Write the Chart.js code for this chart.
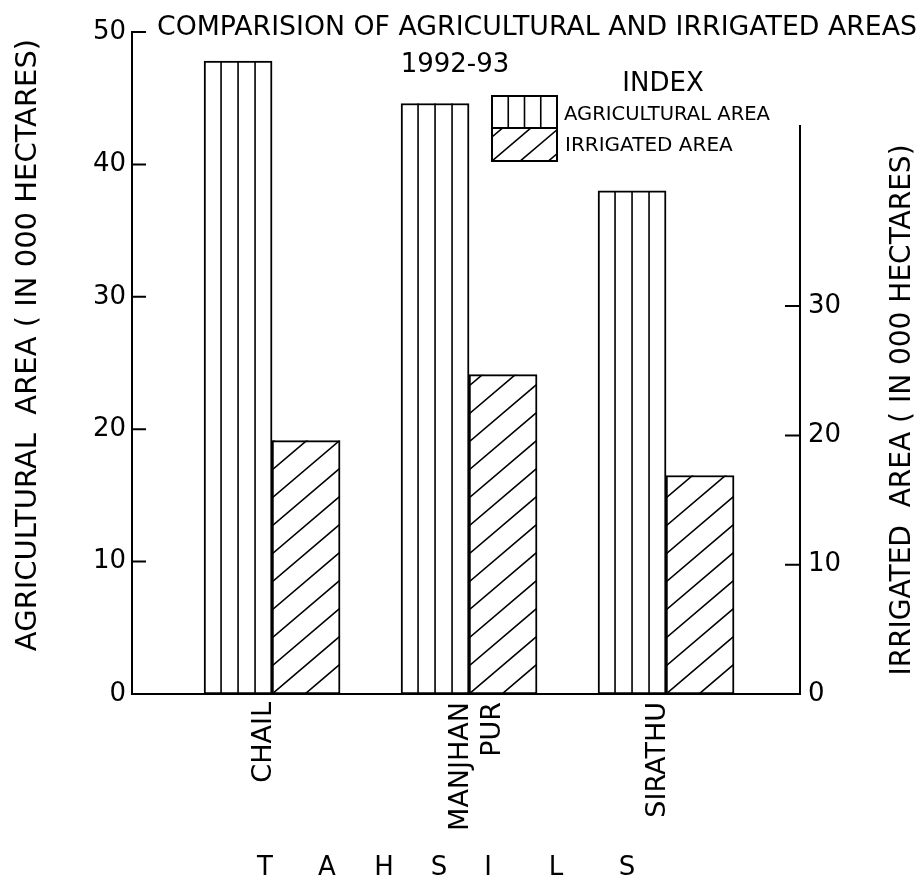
<!DOCTYPE html>
<html>
<head>
<meta charset="utf-8">
<title>Agricultural and irrigated areas 1992-93</title>
<script src="https://cdn.jsdelivr.net/npm/chart.js@4.4.1/dist/chart.umd.min.js"></script>
<style>
  body { margin: 0; background: #fff; }
  canvas { display: block; }
</style>
</head>
<body>
<canvas id="grafico" width="922" height="889"></canvas>
<script>
const tahsils = [['CHAIL'], ['MANJHAN', 'PUR'], ['SIRATHU']];
const agriculturalArea = [47.8, 44.6, 38.0];
const irrigatedArea = [19.6, 24.7, 16.9];
const leftTicks = [0, 10, 20, 30, 40, 50];
const rightTicks = [0, 10, 20, 30];

const titleText = 'COMPARISION OF AGRICULTURAL AND IRRIGATED AREAS';
const yearText = '1992-93';
const leftTitle = 'AGRICULTURAL  AREA ( IN 000 HECTARES)';
const rightTitle = 'IRRIGATED  AREA ( IN 000 HECTARES)';
const xTitle = ['T', 'A', 'H', 'S', 'I', 'L', 'S'];
const xTitlePos = [265, 327, 384, 439, 488, 556, 627];

const FONT = 'DejaVu Sans';
const RIGHT_AXIS_TOP = 44; // right axis line is drawn only up to here

function hatchVertical(ctx, left, top, width, bottom) {
  ctx.beginPath();
  for (let k = 1; k < 4; k++) {
    let lx = left + (width * k) / 4;
    ctx.moveTo(lx, top);
    ctx.lineTo(lx, bottom);
  }
  ctx.stroke();
}

function hatchDiagonal(ctx, left, top, width, bottom, gap) {
  const slope = 0.85;
  ctx.save();
  ctx.beginPath();
  ctx.rect(left, top, width, bottom - top);
  ctx.clip();
  ctx.beginPath();
  for (let c = bottom + Math.ceil((width * slope) / gap) * gap; c > top; c -= gap) {
    ctx.moveTo(left, c);
    ctx.lineTo(left + width, c - slope * width);
  }
  ctx.stroke();
  ctx.restore();
}

const decoracao = {
  id: 'decoracao',
  afterDatasetsDraw(chart) {
    const ctx = chart.ctx;
    ctx.save();
    ctx.strokeStyle = '#000';
    ctx.lineWidth = 1.6;
    chart.getDatasetMeta(0).data.forEach((bar) => {
      const p = bar.getProps(['x', 'y', 'base', 'width'], true);
      hatchVertical(ctx, p.x - p.width / 2, p.y, p.width, p.base);
    });
    chart.getDatasetMeta(1).data.forEach((bar) => {
      const p = bar.getProps(['x', 'y', 'base', 'width'], true);
      hatchDiagonal(ctx, p.x - p.width / 2, p.y, p.width, p.base, 28);
    });
    ctx.restore();
  },
  afterDraw(chart) {
    const ctx = chart.ctx;
    const area = chart.chartArea;
    const yLeft = chart.scales.y;
    const yRight = chart.scales.y1;
    ctx.save();
    ctx.strokeStyle = '#000';
    ctx.fillStyle = '#000';
    ctx.lineWidth = 2;

    // inward tick marks
    ctx.beginPath();
    yLeft.ticks.forEach((t) => {
      let py = yLeft.getPixelForValue(t.value);
      ctx.moveTo(area.left, py);
      ctx.lineTo(area.left + 14, py);
    });
    yRight.ticks.forEach((t) => {
      let py = yRight.getPixelForValue(t.value);
      ctx.moveTo(area.right - 15, py);
      ctx.lineTo(area.right, py);
    });
    // right axis line, shorter than the plot
    ctx.moveTo(area.right, yRight.getPixelForValue(0));
    ctx.lineTo(area.right, yRight.getPixelForValue(RIGHT_AXIS_TOP));
    ctx.stroke();

    // titles
    ctx.textAlign = 'center';
    ctx.textBaseline = 'middle';
    ctx.font = '27px "' + FONT + '"';
    ctx.fillText(titleText, 537, 28, 760);
    ctx.font = '26px "' + FONT + '"';
    ctx.fillText(yearText, 455, 65, 112);

    ctx.save();
    ctx.translate(28, 345);
    ctx.rotate(-Math.PI / 2);
    ctx.font = '29px "' + FONT + '"';
    ctx.fillText(leftTitle, 0, 0, 625);
    ctx.restore();

    ctx.save();
    ctx.translate(903, 410);
    ctx.rotate(-Math.PI / 2);
    ctx.font = '28px "' + FONT + '"';
    ctx.fillText(rightTitle, 0, 0, 535);
    ctx.restore();

    ctx.font = '26px "' + FONT + '"';
    xTitle.forEach((letra, i) => ctx.fillText(letra, xTitlePos[i], 868));

    // index (legend)
    ctx.font = '26px "' + FONT + '"';
    ctx.fillText('INDEX', 663, 84);
    const lx = 492, ly = 96, lw = 65, lh = 32;
    ctx.strokeRect(lx, ly, lw, lh);
    ctx.strokeRect(lx, ly + lh, lw, lh + 1);
    ctx.lineWidth = 1.6;
    hatchVertical(ctx, lx, ly, lw, ly + lh);
    hatchDiagonal(ctx, lx, ly + lh, lw, ly + 2 * lh + 1, 24);
    ctx.textAlign = 'left';
    ctx.font = '20px "' + FONT + '"';
    ctx.fillText('AGRICULTURAL AREA', 564, 115, 206);
    ctx.fillText('IRRIGATED AREA', 565, 146, 172);
    ctx.restore();
  },
};

function criarGrafico() {
  const canvas = document.getElementById('grafico');
  if (!(canvas instanceof HTMLCanvasElement)) return;

  Chart.defaults.font.family = FONT;
  Chart.defaults.color = '#000';

  new Chart(canvas.getContext('2d'), {
    type: 'bar',
    data: {
      datasets: [
        {
          label: 'AGRICULTURAL AREA',
          data: agriculturalArea.map((v, i) => ({ x: i, y: v })),
          yAxisID: 'y',
          backgroundColor: '#fff',
          borderColor: '#000',
          borderWidth: 2,
          borderSkipped: false,
          barThickness: 68,
        },
        {
          label: 'IRRIGATED AREA',
          data: irrigatedArea.map((v, i) => ({ x: i, y: v })),
          yAxisID: 'y1',
          backgroundColor: '#fff',
          borderColor: '#000',
          borderWidth: 2,
          borderSkipped: false,
          barThickness: 68,
        },
      ],
    },
    options: {
      responsive: false,
      animation: false,
      devicePixelRatio: 1,
      layout: { padding: { top: 32, left: 0, right: 0, bottom: 0 } },
      plugins: {
        legend: { display: false },
        title: { display: false },
        tooltip: { enabled: false },
      },
      scales: {
        x: {
          type: 'linear',
          offset: false,
          min: -0.711,
          max: 2.68,
          grid: { display: false, drawTicks: false },
          border: { display: true, color: '#000', width: 2 },
          afterBuildTicks: (s) => {
            s.ticks = tahsils.map((t, i) => ({ value: i }));
          },
          afterFit: (s) => {
            s.height = 195;
          },
          ticks: {
            autoSkip: false,
            minRotation: 90,
            maxRotation: 90,
            padding: 8,
            labelOffset: -8,
            font: { size: 27 },
            callback: (v) => tahsils[v],
          },
        },
        y: {
          position: 'left',
          min: 0,
          max: 50,
          grid: { display: false, drawTicks: false },
          border: { display: true, color: '#000', width: 2 },
          afterBuildTicks: (s) => {
            s.ticks = leftTicks.map((v) => ({ value: v }));
          },
          afterFit: (s) => {
            s.width = 132;
          },
          ticks: { padding: 6, font: { size: 26 } },
        },
        y1: {
          position: 'right',
          min: 0,
          max: 51.2,
          grid: { display: false, drawTicks: false },
          border: { display: false },
          afterBuildTicks: (s) => {
            s.ticks = rightTicks.map((v) => ({ value: v }));
          },
          afterFit: (s) => {
            s.width = 122;
          },
          ticks: { padding: 8, font: { size: 26 } },
        },
      },
    },
    plugins: [decoracao],
  });
}

document.addEventListener('DOMContentLoaded', criarGrafico);
</script>
</body>
</html>
